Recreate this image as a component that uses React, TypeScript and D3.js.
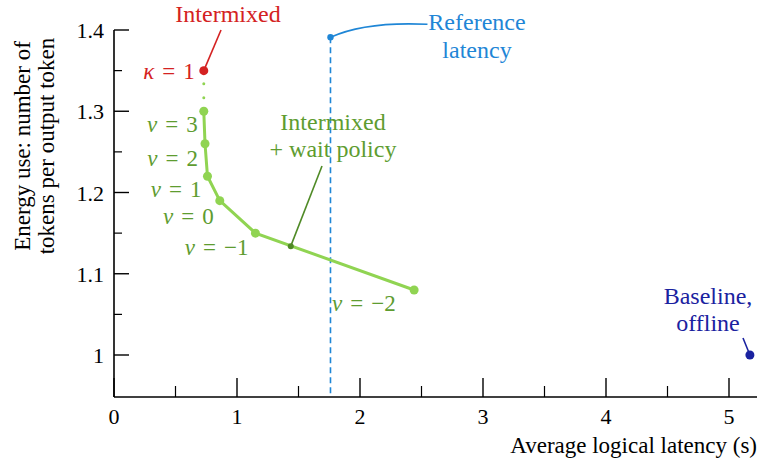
import React from "react";
import * as d3 from "d3";

const nuLabels = ["3", "2", "1", "0", "−1", "−2"];
const latency = [0.73, 0.74, 0.76, 0.86, 1.15, 2.44];
const energy = [1.30, 1.26, 1.22, 1.19, 1.15, 1.08];
const intermixed = { x: 0.73, y: 1.35 };
const waitPoint = { x: 1.437, y: 1.134 };
const refLatency = 1.76;
const refTop = 1.391;
const baseline = { x: 5.17, y: 1.0 };
const xTicks = [0, 1, 2, 3, 4, 5];
const xMinor = [0.5, 1.5, 2.5, 3.5, 4.5];
const yTicks = [1, 1.1, 1.2, 1.3, 1.4];
const yMinor = [1.05, 1.15, 1.25, 1.35];

const W = 759, H = 460;
const FONT = "Liberation Serif";
const RED = "#d42222";
const GREEN_LINE = "#90d452";
const GREEN_TXT = "#5e9c30";
const GREEN_DARK = "#4f8a26";
const BLUE = "#1f86d6";
const NAVY = "#1a22a0";

const labelOffsets = [
  [-6, 21], [-7, 22], [-6, 21], [-6, 23], [-7, 22], [-82, 21],
];

export default function App() {
  const x = d3.scaleLinear().domain([0, 5]).range([114, 729]);
  const y = d3.scaleLinear().domain([1, 1.4]).range([355, 30]);
  const yBottom = 397;
  const xRight = 757;

  const pts = latency.map((v, i) => [x(v), y(energy[i])] as [number, number]);
  const line = d3.line()(pts) || "";

  const fs = 23;
  const ts: React.CSSProperties = { fontFamily: FONT };

  const MathLabel = ({ sym, val }: { sym: string; val: string }) => (
    <>
      <tspan fontStyle="italic">{sym}</tspan>
      <tspan dx={8}>=</tspan>
      <tspan dx={8}>{val}</tspan>
    </>
  );

  return (
    <svg width={W} height={H} style={{ position: "absolute", left: 0, top: 0, background: "#fff" }}>
      <line x1={114} y1={y(1.4)} x2={114} y2={yBottom} stroke="#000" strokeWidth={1.6} />
      <line x1={114} y1={yBottom} x2={xRight} y2={yBottom} stroke="#000" strokeWidth={1.6} />
      {yTicks.map((t) => (
        <g key={"yt" + t}>
          <line x1={114} x2={129} y1={y(t)} y2={y(t)} stroke="#000" strokeWidth={1.4} />
          <text style={ts} fontFamily={FONT} x={104} y={y(t) + 8} textAnchor="end" fontSize={22}>{d3.format("")(t)}</text>
        </g>
      ))}
      {yMinor.map((t) => (
        <line key={"ym" + t} x1={114} x2={122} y1={y(t)} y2={y(t)} stroke="#000" strokeWidth={1.2} />
      ))}
      {xTicks.map((t) => (
        <g key={"xt" + t}>
          <line x1={x(t)} x2={x(t)} y1={yBottom} y2={yBottom - 19} stroke="#000" strokeWidth={1.4} />
          <text style={ts} fontFamily={FONT} x={x(t)} y={yBottom + 27} textAnchor="middle" fontSize={22}>{t}</text>
        </g>
      ))}
      {xMinor.map((t) => (
        <line key={"xm" + t} x1={x(t)} x2={x(t)} y1={yBottom} y2={yBottom - 11} stroke="#000" strokeWidth={1.2} />
      ))}
      <text style={ts} fontFamily={FONT} x={757} y={453} textAnchor="end" fontSize={fs}>Average logical latency (s)</text>
      <g transform="translate(30,146) rotate(-90)">
        <text style={ts} fontFamily={FONT} x={0} y={0} textAnchor="middle" fontSize={fs}>Energy use: number of</text>
        <text style={ts} fontFamily={FONT} x={0} y={24} textAnchor="middle" fontSize={fs}>tokens per output token</text>
      </g>

      <line x1={x(refLatency)} x2={x(refLatency)} y1={y(refTop)} y2={yBottom}
        stroke={BLUE} strokeWidth={1.6} strokeDasharray="6,4" />
      <circle cx={x(refLatency)} cy={y(refTop)} r={3.2} fill={BLUE} />
      <path d={`M${x(refLatency)},${y(refTop)} Q${x(refLatency) + 35},${y(refTop) - 16} ${x(refLatency) + 97},${y(refTop) - 13}`}
        fill="none" stroke={BLUE} strokeWidth={1.6} />
      <text style={ts} fontFamily={FONT} x={477} y={30} textAnchor="middle" fontSize={24} fill={BLUE}>Reference</text>
      <text style={ts} fontFamily={FONT} x={477} y={58} textAnchor="middle" fontSize={24} fill={BLUE}>latency</text>

      <line x1={x(intermixed.x)} x2={pts[0][0]} y1={y(intermixed.y)} y2={pts[0][1]}
        stroke={GREEN_LINE} strokeWidth={3} strokeDasharray="0,14" strokeLinecap="round" strokeDashoffset={-13} />

      <path d={line} fill="none" stroke={GREEN_LINE} strokeWidth={3} />
      {pts.map((p, i) => (
        <circle key={"p" + i} cx={p[0]} cy={p[1]} r={4.5} fill={GREEN_LINE} />
      ))}
      {pts.map((p, i) => (
        <text style={ts} fontFamily={FONT} key={"l" + i} x={p[0] + labelOffsets[i][0]} y={p[1] + labelOffsets[i][1]}
          textAnchor={i === 5 ? "start" : "end"} fontSize={fs} fill={GREEN_TXT}>
          <MathLabel sym="ν" val={nuLabels[i]} />
        </text>
      ))}

      <line x1={x(waitPoint.x)} y1={y(waitPoint.y)} x2={322} y2={166} stroke={GREEN_DARK} strokeWidth={1.6} />
      <circle cx={x(waitPoint.x)} cy={y(waitPoint.y)} r={3} fill={GREEN_DARK} />
      <text style={ts} fontFamily={FONT} x={333} y={130} textAnchor="middle" fontSize={24} fill={GREEN_TXT}>Intermixed</text>
      <text style={ts} fontFamily={FONT} x={333} y={157} textAnchor="middle" fontSize={24} fill={GREEN_TXT}>+ wait policy</text>

      <line x1={x(intermixed.x)} y1={y(intermixed.y)} x2={221} y2={30} stroke={RED} strokeWidth={1.6} />
      <circle cx={x(intermixed.x)} cy={y(intermixed.y)} r={4.5} fill={RED} />
      <text style={ts} fontFamily={FONT} x={228} y={22} textAnchor="middle" fontSize={24} fill={RED}>Intermixed</text>
      <text style={ts} fontFamily={FONT} x={x(intermixed.x) - 9} y={y(intermixed.y) + 8} textAnchor="end" fontSize={fs} fill={RED}>
        <MathLabel sym="κ" val="1" />
      </text>

      <line x1={x(baseline.x)} y1={y(baseline.y)} x2={743} y2={338} stroke={NAVY} strokeWidth={1.6} />
      <circle cx={x(baseline.x)} cy={y(baseline.y)} r={4.5} fill={NAVY} />
      <text style={ts} fontFamily={FONT} x={708} y={304} textAnchor="middle" fontSize={24} fill={NAVY}>Baseline,</text>
      <text style={ts} fontFamily={FONT} x={708} y={331} textAnchor="middle" fontSize={24} fill={NAVY}>offline</text>
    </svg>
  );
}
